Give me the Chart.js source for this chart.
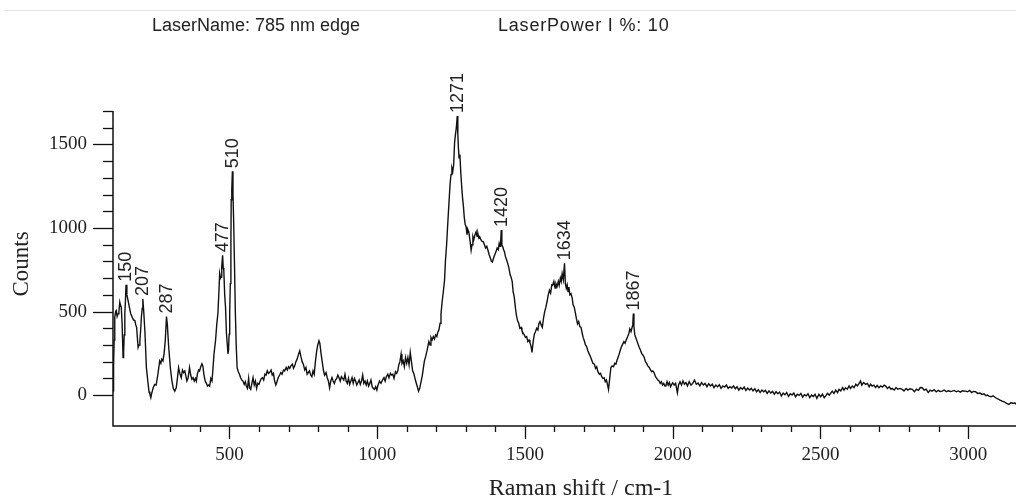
<!DOCTYPE html>
<html><head><meta charset="utf-8">
<script src="https://cdn.jsdelivr.net/npm/chart.js@4.4.0/dist/chart.umd.min.js"></script>
<style>
html,body{margin:0;padding:0;background:#fff;}
#wrap{position:relative;width:1016px;height:497px;overflow:hidden;background:#fff;}
canvas{position:absolute;left:0;top:0;}
.hdr{position:absolute;font-family:"Liberation Sans",Arial,sans-serif;font-size:18px;color:#222;white-space:nowrap;line-height:1;}
#rule{position:absolute;left:4px;top:10px;width:1012px;height:1px;background:#e2e2e2;}
</style></head><body>
<div id="wrap">
<canvas id="c" width="1016" height="497"></canvas>
<div id="rule"></div>
<div class="hdr" style="left:152px;top:16px">LaserName: 785 nm edge</div>
<div class="hdr" style="left:498px;top:16px;letter-spacing:0.8px">LaserPower I %: 10</div>
</div>
<script>
// Raman shift (cm-1) and counts
const ramanShift = [106,108,110,112,115,117,120,123,126,129,131,134,137,140,142,144,146,148,150,153,157,162,166,170,175,180,183,186,189,191,194,197,200,202,205,207,210,214,219,224,228,231,234,237,242,247,252,258,264,268,271,275,279,283,287,290,294,300,305,310,315,320,324,328,332,337,341,345,349,353,356,360,365,369,373,377,381,385,388,392,396,399,403,407,410,414,418,422,426,430,433,437,441,444,448,453,457,461,464,467,470,472,474,477,479,481,484,487,490,493,495,497,499,501,503,505,506,508,510,512,514,517,520,523,526,530,534,538,542,546,550,554,557,561,565,568,572,576,580,584,588,592,596,600,604,608,612,616,620,624,628,632,636,641,645,649,653,657,661,665,670,674,678,683,687,692,696,700,704,708,713,717,721,725,729,734,738,742,746,750,755,759,763,767,771,775,779,783,787,791,795,799,803,806,810,814,818,822,827,831,835,839,843,847,851,855,859,863,867,871,875,879,883,887,891,895,899,903,907,911,915,919,923,927,931,935,939,943,947,951,955,959,963,967,971,975,979,983,987,991,995,999,1003,1008,1013,1018,1023,1027,1031,1036,1040,1045,1049,1053,1057,1062,1066,1070,1073,1077,1081,1084,1088,1092,1096,1100,1104,1108,1112,1116,1120,1124,1128,1132,1136,1140,1144,1149,1153,1157,1160,1164,1168,1171,1175,1179,1182,1186,1190,1194,1198,1202,1205,1209,1213,1216,1220,1224,1228,1231,1235,1239,1243,1247,1250,1253,1256,1259,1262,1265,1268,1271,1273,1275,1277,1280,1283,1286,1289,1292,1295,1298,1301,1304,1307,1310,1313,1316,1318,1321,1324,1327,1331,1335,1338,1341,1344,1347,1351,1355,1359,1363,1367,1371,1375,1379,1383,1387,1390,1394,1398,1402,1406,1410,1413,1416,1418,1420,1422,1425,1428,1431,1434,1438,1442,1446,1450,1453,1457,1460,1464,1468,1471,1475,1479,1483,1487,1490,1494,1498,1502,1506,1510,1514,1517,1521,1524,1528,1532,1536,1540,1544,1547,1551,1555,1559,1563,1567,1571,1575,1579,1583,1587,1591,1594,1598,1602,1605,1609,1613,1616,1620,1623,1626,1630,1634,1637,1640,1643,1646,1649,1652,1656,1660,1663,1667,1671,1674,1678,1682,1686,1690,1694,1697,1701,1705,1709,1713,1718,1722,1726,1730,1735,1739,1743,1747,1752,1756,1760,1764,1768,1772,1776,1780,1783,1787,1791,1795,1800,1804,1808,1812,1816,1819,1823,1827,1831,1835,1839,1844,1848,1852,1855,1859,1862,1865,1867,1869,1872,1876,1880,1884,1887,1891,1895,1899,1904,1908,1912,1916,1921,1925,1929,1933,1937,1942,1946,1950,1954,1958,1962,1966,1970,1974,1977,1981,1985,1989,1993,1997,2000,2005,2010,2016,2020,2025,2030,2035,2040,2045,2050,2056,2062,2068,2074,2080,2086,2092,2098,2104,2110,2116,2122,2128,2134,2140,2146,2152,2158,2164,2170,2176,2182,2188,2194,2200,2206,2212,2218,2224,2230,2236,2242,2248,2254,2260,2266,2272,2278,2284,2290,2296,2302,2308,2314,2320,2326,2332,2338,2344,2350,2356,2362,2368,2374,2380,2386,2392,2398,2404,2410,2416,2422,2428,2434,2440,2446,2452,2458,2464,2470,2476,2482,2488,2495,2501,2507,2513,2518,2524,2530,2540,2546,2552,2558,2563,2569,2575,2580,2585,2591,2597,2602,2608,2614,2620,2625,2631,2636,2640,2646,2653,2659,2665,2670,2675,2681,2687,2692,2698,2704,2710,2716,2721,2727,2733,2739,2743,2750,2756,2762,2770,2777,2783,2790,2796,2803,2811,2818,2825,2832,2838,2845,2851,2858,2865,2871,2878,2885,2892,2899,2905,2912,2919,2926,2933,2940,2946,2953,2960,2967,2974,2981,2991,2998,3005,3012,3018,3025,3032,3040,3047,3054,3060,3066,3070,3077,3084,3093,3100,3108,3115,3122,3130,3138,3145,3152,3158,3162];
const counts = [24,180,330,466,500,506,470,486,500,556,540,526,420,225,260,360,488,560,660,600,566,520,487,470,450,446,420,405,330,285,300,325,400,466,520,575,500,380,165,80,20,4,-16,10,44,64,60,125,205,190,215,205,250,330,470,420,300,165,90,40,24,44,100,164,130,104,150,135,145,110,84,100,165,120,95,104,84,100,84,130,150,145,170,187,175,120,84,70,54,60,54,100,84,150,250,325,420,488,600,728,700,707,770,837,760,747,600,520,367,300,247,270,365,500,667,900,1169,1230,1339,1200,1068,800,500,300,164,140,125,104,90,84,64,80,54,40,100,44,34,70,104,60,84,40,70,64,84,100,104,90,125,120,145,130,135,150,120,130,84,60,80,104,120,135,125,150,145,165,150,170,160,175,185,160,175,200,215,245,265,230,200,185,150,165,125,135,145,120,110,145,125,200,260,300,325,310,250,200,150,120,135,104,84,44,84,104,84,70,90,100,120,104,84,110,100,90,125,84,70,100,64,84,104,70,100,84,60,75,90,64,84,120,70,84,60,84,54,70,90,50,40,34,50,30,60,84,70,90,104,84,110,125,104,130,120,125,100,140,130,145,180,200,245,190,205,170,225,190,225,180,255,200,145,130,100,74,50,24,40,84,120,170,205,230,260,285,320,300,345,330,350,335,360,350,375,390,430,486,560,620,687,800,900,1028,1150,1269,1320,1360,1340,1380,1510,1560,1600,1670,1560,1480,1420,1440,1330,1250,1180,1128,1060,1020,1008,960,990,978,940,900,867,900,948,930,960,978,950,965,940,948,930,920,918,900,880,890,867,840,820,800,797,820,840,857,880,870,908,890,920,988,900,887,870,857,830,810,787,760,720,707,680,620,586,520,480,446,430,400,405,386,370,360,345,350,320,330,315,290,255,320,365,380,400,390,426,440,420,405,460,500,526,560,600,627,610,660,657,680,640,667,650,680,657,700,680,727,690,789,667,640,660,620,647,600,607,580,540,526,490,460,426,440,410,405,370,345,325,300,290,265,245,230,210,190,185,160,170,140,125,130,110,100,104,80,90,60,34,100,165,175,170,190,185,210,230,245,270,290,305,320,310,335,350,370,396,380,400,420,488,410,360,340,320,300,285,270,250,240,225,200,190,175,165,150,140,145,135,110,100,90,84,70,80,60,70,54,54,80,60,75,50,65,74,60,70,14,60,80,60,85,65,75,55,80,60,70,90,65,72,55,75,60,70,50,68,55,65,45,60,50,62,40,55,48,60,40,50,42,55,38,50,30,45,35,48,28,42,30,40,25,38,20,32,15,30,20,28,10,25,12,22,5,20,8,18,-5,12,2,15,-8,8,0,12,-10,5,-2,10,-12,2,-5,8,-15,0,-8,5,-20,4,-10,6,-16,-5,10,0,24,10,30,15,34,25,45,30,44,35,55,40,54,45,65,55,70,84,60,75,64,70,50,65,54,60,45,58,44,55,48,60,54,40,50,35,40,30,45,35,40,34,25,40,30,38,34,20,35,28,45,44,30,35,15,30,24,32,20,28,22,24,30,20,26,22,24,28,20,25,18,26,24,20,28,15,22,20,10,12,4,8,-4,0,-6,-10,-4,-16,-22,-30,-36,-40,-50,-56,-45,-50,-46,-55];
// labelled peak positions
const peakShifts = [150,207,287,477,510,1271,1420,1634,1867];
// axis ticks
const xMajorStep = 500, xMinorStep = 100;
const yMajorStep = 500, yMinorStep = 100;
const xTitle = 'Raman shift / cm-1';
const yTitle = 'Counts';

const points = ramanShift.map((v,i)=>({x:v, y:counts[i]}));

const decor = {
  id:'decor',
  afterDatasetsDraw(chart){
    const {ctx, scales:{x,y}} = chart;
    ctx.save();
    ctx.fillStyle = '#222';
    ctx.font = '18px "Liberation Sans", Arial, sans-serif';
    ctx.textAlign = 'left';
    ctx.textBaseline = 'middle';
    peakShifts.forEach(p=>{
      const i = ramanShift.indexOf(p);
      const px = x.getPixelForValue(p);
      const py = y.getPixelForValue(counts[i]);
      ctx.save();
      ctx.translate(px+0.5, py-3);
      ctx.rotate(-Math.PI/2);
      ctx.fillText(String(p), 0, 0);
      ctx.restore();
    });
    ctx.restore();
  },
  afterDraw(chart){
    const {ctx, chartArea:a, scales:{x,y}} = chart;
    ctx.save();
    ctx.strokeStyle = '#111';
    ctx.lineWidth = 1.5;
    ctx.beginPath();
    ctx.moveTo(a.left, a.top);
    ctx.lineTo(a.left, a.bottom);
    ctx.lineTo(a.right, a.bottom);
    ctx.stroke();
    ctx.lineWidth = 1.3;
    x.ticks.forEach(t=>{
      if (t.value % xMinorStep !== 0) return;
      const px = Math.round(x.getPixelForValue(t.value))+0.5;
      const len = t.value % xMajorStep === 0 ? 13 : 6;
      ctx.beginPath(); ctx.moveTo(px, a.bottom); ctx.lineTo(px, a.bottom+len); ctx.stroke();
    });
    y.ticks.forEach(t=>{
      if (t.value % yMinorStep !== 0) return;
      const py = Math.round(y.getPixelForValue(t.value))+0.5;
      const len = t.value % yMajorStep === 0 ? 20 : 10;
      ctx.beginPath(); ctx.moveTo(a.left-len, py); ctx.lineTo(a.left, py); ctx.stroke();
    });
    // axis titles
    ctx.fillStyle = '#222';
    ctx.font = '24px "Liberation Serif", "Times New Roman", serif';
    ctx.textAlign = 'center';
    ctx.textBaseline = 'alphabetic';
    ctx.fillText(xTitle, 581, 495);
    ctx.save();
    ctx.font = '23px "Liberation Serif", "Times New Roman", serif';
    ctx.translate(28, 264);
    ctx.rotate(-Math.PI/2);
    ctx.fillText(yTitle, 0, 0);
    ctx.restore();
    ctx.restore();
  }
};

new Chart(document.getElementById('c'), {
  type:'line',
  data:{datasets:[{data:points, borderColor:'#111', borderWidth:1.4, pointRadius:0, tension:0, fill:false}]},
  options:{
    responsive:false, animation:false, devicePixelRatio:1, events:[],
    layout:{padding:{top:111,left:0,right:0,bottom:0}, autoPadding:false},
    plugins:{legend:{display:false}, tooltip:{enabled:false}},
    scales:{
      x:{type:'linear', min:106, max:3162,
        grid:{display:false, drawTicks:false}, border:{display:false},
        ticks:{stepSize:xMinorStep, autoSkip:false, maxRotation:0, padding:18, color:'#222',
          font:{family:'"Liberation Serif", "Times New Roman", serif', size:19},
          callback:v=> v % xMajorStep === 0 ? String(v) : ''},
        afterFit(s){ s.height = 71; s.paddingLeft = 0; s.paddingRight = 0; }
      },
      y:{type:'linear', min:-185, max:1700,
        grid:{display:false, drawTicks:false}, border:{display:false},
        ticks:{stepSize:yMinorStep, autoSkip:false, padding:26, color:'#222',
          font:{family:'"Liberation Serif", "Times New Roman", serif', size:19},
          callback:v=> v % yMajorStep === 0 ? String(v) : ''},
        afterFit(s){ s.width = 113; s.paddingTop = 0; s.paddingBottom = 0; }
      }
    }
  },
  plugins:[decor]
});
</script>
</body></html>
